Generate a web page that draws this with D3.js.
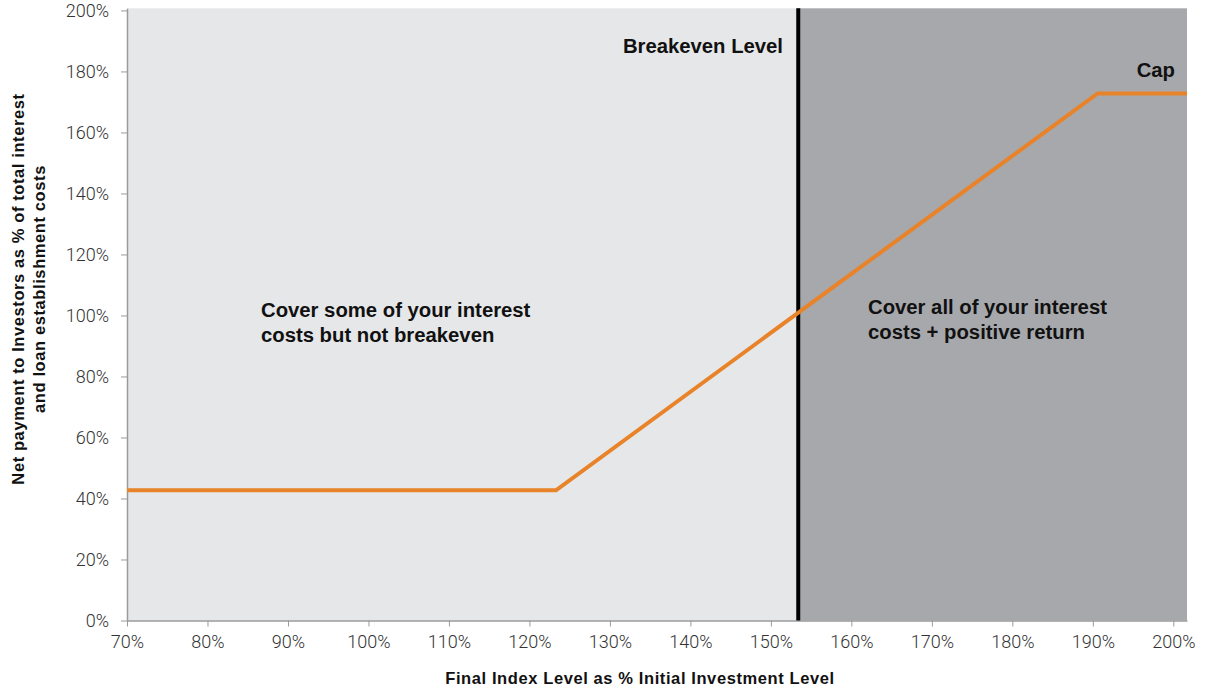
<!DOCTYPE html>
<html>
<head>
<meta charset="utf-8">
<script src="https://cdn.jsdelivr.net/npm/d3@7"></script>
<style>
  body { margin: 0; background: #fff; }
  svg text { font-family: "Liberation Sans", Arial, sans-serif; }
  .tick text { font-family: Roboto, "Liberation Sans", sans-serif; font-size: 18px; fill: #333; font-weight: 300; }
  .tick line, .domain { stroke: #9a9a9a; }
  .note { font-size: 20.3px; font-weight: bold; fill: #111; }
  .atitle { font-size: 16.5px; font-weight: bold; fill: #111; letter-spacing: 0.6px; }
</style>
</head>
<body>
<script>
// axis ranges and ticks
var xTicks = [70, 80, 90, 100, 110, 120, 130, 140, 150, 160, 170, 180, 190, 200];
var yTicks = [0, 20, 40, 60, 80, 100, 120, 140, 160, 180, 200];
var xDomain = [70, 201.7];
var yDomain = [0, 200.7];

// payoff profile (index level %, net payment %)
var payoffX = [70, 123.3, 190.6, 201.7];
var payoffY = [42.7, 42.7, 172.8, 172.8];

// breakeven index level
var breakeven = 153.4;

var width = 1210, height = 690;
var plotLeft = 127, plotRight = 1187, plotTop = 8.3, plotBottom = 620.5;

var svg = d3.select("body").append("svg")
    .attr("width", width)
    .attr("height", height);

var x = d3.scaleLinear().domain(xDomain).range([plotLeft, plotRight]);
var y = d3.scaleLinear().domain(yDomain).range([plotBottom, plotTop]);

//background zones
svg.append("rect")
    .attr("x", x(xDomain[0])).attr("y", y(yDomain[1]))
    .attr("width", x(breakeven) - x(xDomain[0]))
    .attr("height", y(0) - y(yDomain[1]))
    .attr("fill", "#E6E7E8");
svg.append("rect")
    .attr("x", x(breakeven)).attr("y", y(yDomain[1]))
    .attr("width", x(xDomain[1]) - x(breakeven))
    .attr("height", y(0) - y(yDomain[1]))
    .attr("fill", "#A7A8AB");

//axes
var fmt = function(d){ return d + "%"; };
svg.append("g")
    .attr("transform", "translate(" + plotLeft + ",0)")
    .call(d3.axisLeft(y).tickValues(yTicks).tickFormat(fmt).tickSize(6).tickPadding(12).tickSizeOuter(0));

svg.append("g")
    .attr("transform", "translate(0," + plotBottom + ")")
    .call(d3.axisBottom(x).tickValues(xTicks).tickFormat(fmt).tickSize(6).tickPadding(9).tickSizeOuter(0));

svg.selectAll(".domain").attr("stroke-width", 1.5);

//breakeven line
svg.append("line")
    .attr("x1", x(breakeven)).attr("x2", x(breakeven))
    .attr("y1", y(yDomain[1])).attr("y2", y(0))
    .attr("stroke", "#000").attr("stroke-width", 4);

//payoff line
var pts = payoffX.map(function(v, i){ return [v, payoffY[i]]; });
svg.append("path")
    .datum(pts)
    .attr("fill", "none")
    .attr("stroke", "#E8832A")
    .attr("stroke-width", 4)
    .attr("d", d3.line().x(function(d){ return x(d[0]); }).y(function(d){ return y(d[1]); }));

//annotations
function note(tx, ty, lines, anchor){
    var t = svg.append("text").attr("class", "note")
        .attr("x", tx).attr("y", ty)
        .attr("text-anchor", anchor || "start");
    lines.forEach(function(s, i){
        t.append("tspan").attr("x", tx).attr("dy", i ? 25 : 0).text(s);
    });
}
note(783, 53, ["Breakeven Level"], "end");
note(1175, 77, ["Cap"], "end");
note(261, 317, ["Cover some of your interest", "costs but not breakeven"]);
note(868, 314, ["Cover all of your interest", "costs + positive return"]);

//axis titles
svg.append("text").attr("class", "atitle")
    .attr("x", 640).attr("y", 684)
    .attr("text-anchor", "middle")
    .text("Final Index Level as % Initial Investment Level");

var yt = svg.append("text").attr("class", "atitle")
    .attr("transform", "translate(24,289) rotate(-90)")
    .attr("text-anchor", "middle");
yt.append("tspan").attr("x", 0).attr("dy", 0).text("Net payment to Investors as % of total interest");
yt.append("tspan").attr("x", 0).attr("dy", 21).text("and loan establishment costs");
</script>
</body>
</html>
